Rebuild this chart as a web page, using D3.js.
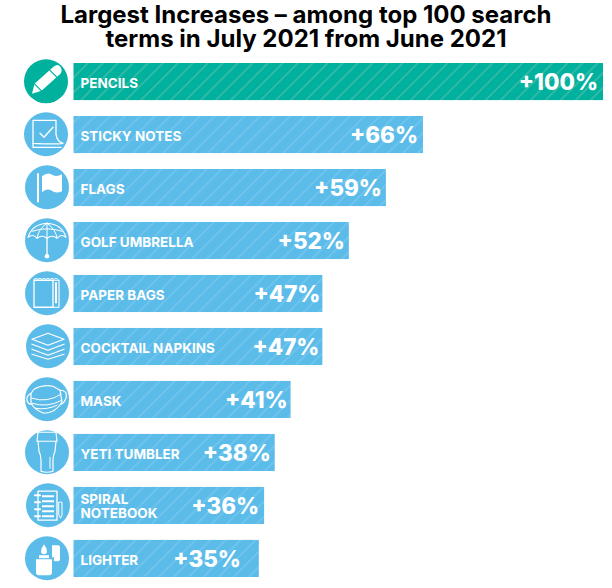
<!DOCTYPE html>
<html>
<head>
<meta charset="utf-8">
<script src="https://cdn.jsdelivr.net/npm/d3@7"></script>
<style>
  html, body { margin: 0; padding: 0; background: #fff; }
  svg { display: block; }
  text { font-family: Inter, "Open Sans", sans-serif; font-weight: 700; }
</style>
</head>
<body>
<script>
var titleLines = ["Largest Increases – among top 100 search", "terms in July 2021 from June 2021"];
var categories = ["PENCILS", "STICKY NOTES", "FLAGS", "GOLF UMBRELLA", "PAPER BAGS",
  "COCKTAIL NAPKINS", "MASK", "YETI TUMBLER", "SPIRAL NOTEBOOK", "LIGHTER"];
var values = [100, 66, 59, 52, 47, 47, 41, 38, 36, 35];
var iconNames = ["pencil", "note", "flag", "umbrella", "bag", "napkins", "mask", "tumbler", "notebook", "lighter"];
// small sideways shifts of the round icons, as in the original layout
var iconShift = [0, 0, 1, 1, 1, 2, 1, 1, 2, 1];
// gap between the end of a bar and its value text
var valueGap = [5, 5, 4, 4, 2, 3, 3, 4, 5, 18];

var svgW = 612;
var svgH = 588;
var blue = "#5cbce9";
var teal = "#00b19d";

var svg = d3.select("body").append("svg").attr("width", svgW).attr("height", svgH);

// stripes
var defs = svg.append("defs");
function stripes(id, bg, line) {
  var p = defs.append("pattern")
    .attr("id", id)
    .attr("patternUnits", "userSpaceOnUse")
    .attr("width", 10.6)
    .attr("height", 10.6)
    .attr("patternTransform", "rotate(45)");
  p.append("rect").attr("width", 10.6).attr("height", 10.6).attr("fill", bg);
  p.append("rect").attr("width", 1.5).attr("height", 10.6).attr("fill", line);
}
stripes("stripeBlue", blue, "#74c6ec");
stripes("stripeTeal", teal, "#42bba8");

var x = d3.scaleLinear().domain([0, 100]).range([73.5, 603]);
var y = d3.scaleBand().domain(categories).range([63, 577]).paddingInner(0.3).paddingOuter(0).align(0);

svg.selectAll(".title")
  .data(titleLines)
  .enter()
  .append("text")
  .attr("class", "title")
  .attr("x", 306)
  .attr("y", function(d, i){ return 23 + i * 24; })
  .attr("text-anchor", "middle")
  .attr("font-size", 24)
  .attr("fill", "#000")
  .text(function(d){ return d; });

var rows = svg.selectAll(".row")
  .data(categories)
  .enter()
  .append("g")
  .attr("class", "row");

rows.append("rect")
  .attr("x", x(0))
  .attr("y", function(d){ return y(d); })
  .attr("width", function(d, i){ return x(values[i]) - x(0); })
  .attr("height", y.bandwidth())
  .attr("fill", function(d, i){ return i == 0 ? "url(#stripeTeal)" : "url(#stripeBlue)"; });

rows.append("text")
  .attr("class", "value")
  .attr("x", function(d, i){ return x(values[i]) - valueGap[i]; })
  .attr("y", function(d){ return y(d) + 27; })
  .attr("text-anchor", "end")
  .attr("font-size", 22.4)
  .style("font-weight", 800)
  .attr("fill", "#fff")
  .text(function(d, i){ return "+" + values[i] + "%"; });

rows.each(function(d){
  var g = d3.select(this);
  var parts = d == "SPIRAL NOTEBOOK" ? ["SPIRAL", "NOTEBOOK"] : [d];
  parts.forEach(function(t, j){
    g.append("text")
      .attr("x", x(0) + 7)
      .attr("y", y(d) + (parts.length == 1 ? 25 : 17 + j * 14))
      .attr("font-size", 13.5)
      .attr("fill", "#fff")
      .text(t);
  });
});

// icons, drawn around (0,0) of their circle
function line(g, path, w) {
  return g.append("path").attr("d", path).attr("fill", "none")
    .attr("stroke", "#fff").attr("stroke-width", w || 1.3)
    .attr("stroke-linejoin", "round").attr("stroke-linecap", "round");
}
function fill(g, path) {
  return g.append("path").attr("d", path).attr("fill", "#fff");
}
var drawIcon = {
  pencil: function(g){
    fill(g, "M7.5 -14.5 Q11 -18 14 -15 Q17 -11 14.5 -7.5 L-4.5 9.5 L-14 12.5 L-11.5 2.5 Z");
    line(g, "M4 -11 L11 -4", 1.2).attr("stroke", teal);
    line(g, "M-11.5 2.5 L-4.5 9.5", 1.2).attr("stroke", teal);
  },
  note: function(g){
    line(g, "M-13 -14 L10 -14 L10 0 Q11 7 17 9 Q10 10 -13 9 Z");
    line(g, "M-13 9 L-13 13 L15 13");
    line(g, "M-6 -1 L-2 3 L7 -7", 1.4);
  },
  flag: function(g){
    fill(g, "M-10 -14 H-8 V15 H-10 Z");
    fill(g, "M-5 -11 Q1 -16 6 -12 Q10 -10 15 -13 V4 Q9 7 4 3 Q-1 1 -5 5 Z");
  },
  umbrella: function(g){
    line(g, "M-19 -3 Q-15 -16 0 -17 Q15 -16 19 -3 Q14 -7 10 -2 Q5 -6 0 -2 Q-5 -6 -10 -2 Q-14 -7 -19 -3 Z", 1.1);
    line(g, "M0 -17 Q-9 -11 -10 -2 M0 -17 Q9 -11 10 -2 M0 -17 V-2 M-15 -9 Q0 -14 15 -9", 1);
    line(g, "M0 -2 V15", 1.3);
    g.append("circle").attr("cy", 16).attr("r", 2.3).attr("fill", "#fff");
  },
  bag: function(g){
    line(g, "M-13 -13 H6 V14 H-13 Z", 1.3);
    line(g, "M6 -13 H12 V14 H6", 1.1);
    fill(g, "M8 -11 H10 V10 H8 Z");
    line(g, "M-13 -14 l2 -1 l2 1 l2 -1 l2 1 l2 -1 l2 1 l2 -1 l2 1 l2 -1 l2 1 l2 -1 l2 1", 0.8);
  },
  napkins: function(g){
    line(g, "M-16 -7 L0 -13 L16 -7 L0 -1 Z", 1.3);
    line(g, "M-16 -2 L0 4 L16 -2", 1.3);
    line(g, "M-16 3 L0 9 L16 3", 1.3);
    line(g, "M-16 8 L0 13 L16 8", 1.3);
  },
  mask: function(g){
    line(g, "M-13 -10 Q-4 -15 6 -13 L13 -9 L15 3 Q8 14 -3 14 Q-12 11 -16 4 L-16 -6 Z", 1.2);
    line(g, "M-15 -1 Q0 4 14 -5 M-15 4 Q0 9 15 1 M-12 9 Q0 11 10 6", 1);
    line(g, "M13 -9 Q21 -9 19 -1 Q17 4 14 5 M-16 -6 Q-21 -3 -20 1 Q-19 5 -16 5", 1.2);
  },
  tumbler: function(g){
    line(g, "M-9 -20 H9 L10 -11 H-10 Z", 1.2);
    line(g, "M-9 -11 L-8 -1 Q-6 3 -6 8 L-6 19 Q0 21 6 19 L6 8 Q6 3 8 -1 L9 -11", 1.2);
    line(g, "M3 5 V16", 1);
  },
  notebook: function(g){
    line(g, "M-10 -14 H9 V15 H-10 Z", 1.3);
    fill(g, "M-6 -10 H6 V-8 H-6 Z M-6 -5 H6 V-3 H-6 Z M-6 0 H6 V2 H-6 Z M-6 5 H6 V7 H-6 Z M-6 10 H6 V12 H-6 Z");
    line(g, "M-13 -10 H-8 M-13 -3 H-8 M-13 4 H-8 M-13 11 H-8", 2);
    line(g, "M11 -3 H14 V10 L12.5 13 L11 10 Z", 1);
  },
  lighter: function(g){
    fill(g, "M-11 1 H5 V14 Q5 17 2 17 H-8 Q-11 17 -11 14 Z");
    fill(g, "M5 -13 H11 Q13 -13 13 -11 V1 Q13 3 11 3 H7 V-1 H5 Z");
    fill(g, "M-3 -14 Q0 -10 0 -7 Q0 -4 -3 -4 Q-6 -4 -6 -7 Q-6 -10 -3 -14 Z");
    fill(g, "M-8 -3 H2 V0 H-8 Z");
  }
};

var icons = svg.selectAll(".icon")
  .data(categories)
  .enter()
  .append("g")
  .attr("class", "icon")
  .attr("transform", function(d, i){
    return "translate(" + (46 + iconShift[i]) + "," + (y(d) + 18.3) + ")";
  });

icons.append("circle")
  .attr("r", 22)
  .attr("fill", function(d, i){ return i == 0 ? teal : blue; });

icons.each(function(d, i){
  drawIcon[iconNames[i]](d3.select(this));
});
</script>
</body>
</html>
